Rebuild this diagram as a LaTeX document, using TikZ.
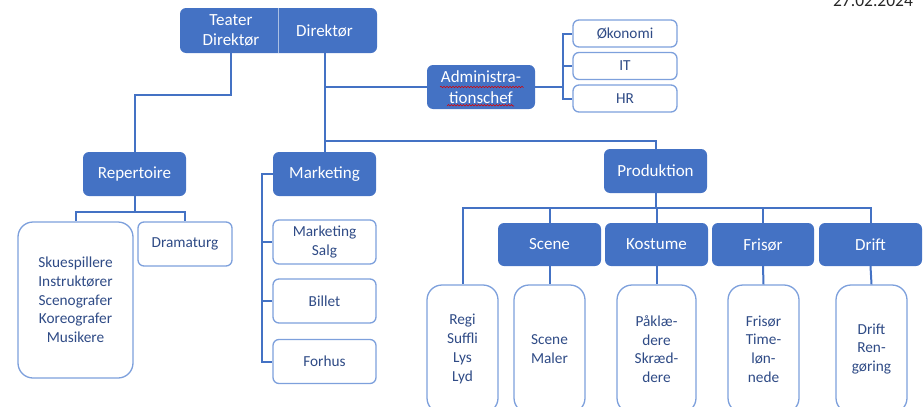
\documentclass[tikz,border=0pt]{standalone}
\usepackage{fontspec}
\setmainfont{Carlito}
\usetikzlibrary{positioning,decorations.pathmorphing}
\definecolor{orgblue}{HTML}{4472C4}
\definecolor{orgline}{HTML}{7DA0DC}
\definecolor{orgtext}{HTML}{2F4B86}

\begin{document}
\begin{tikzpicture}[
  x=1pt, y=-1pt,
  dark/.style={
    rectangle, fill=orgblue, rounded corners=6pt, text=white,
    align=center, inner sep=2pt, font=\fontsize{17}{20.5}\selectfont
  },
  light/.style={
    rectangle, draw=orgline, line width=1.3pt, fill=white, rounded corners=6pt,
    text=orgtext, align=center, inner sep=2pt, font=\fontsize{15.3}{18.7}\selectfont
  },
  tall/.style={light, rounded corners=15pt},
  conn/.style={draw=orgblue, line width=2pt}
]
\path[use as bounding box, clip] (0,0) rectangle (924,407);

\node (dato) [anchor=base, text=black!85, font=\fontsize{17.5}{20}\selectfont] at (873,6) {27.02.2024};

\node (dirbox) [dark, minimum width=197pt, minimum height=45pt] at (278.5,30.5) {};
\node (teater) [dark, fill=none, minimum width=94pt, minimum height=45pt] at (231,30.5) {Teater\\Direktør};
\node (dir) [dark, fill=none, minimum width=93pt, minimum height=45pt] at (324.5,30.5) {Direktør};
\draw[white!55!orgblue, line width=1pt] (dirbox.north) -- (dirbox.south);

\node (adm) [dark, minimum width=108pt, minimum height=44pt] at (481,87) {Administra-\\tionschef};
\draw[red!85!black, line width=0.6pt, decorate, decoration={snake, amplitude=0.7pt, segment length=3pt}]
  (440,87) -- (523,87) (447,106) -- (514,106);

\node (oko) [light, minimum width=104pt, minimum height=27pt] at (625,33.5) {Økonomi};
\node (it) [light, minimum width=104pt, minimum height=27pt] at (625,66) {IT};
\node (hr) [light, minimum width=104pt, minimum height=27pt] at (625,98.5) {HR};

\node (rep) [dark, minimum width=103pt, minimum height=44pt] at (134.5,174) {Repertoire};
\node (mark) [dark, minimum width=103pt, minimum height=44pt] at (324.5,174) {Marketing};
\node (prod) [dark, minimum width=103pt, minimum height=44pt] at (655.5,171) {Produktion};

\node (skue) [tall, minimum width=115pt, minimum height=156pt] at (75.5,300)
  {Skuespillere\\Instruktører\\Scenografer\\Koreografer\\Musikere};
\node (drama) [light, minimum width=94pt, minimum height=44pt] at (185,244) {Dramaturg};

\node (salg) [light, minimum width=103pt, minimum height=44pt] at (324.5,242) {Marketing\\Salg};
\node (billet) [light, minimum width=103pt, minimum height=44pt] at (324.5,301) {Billet};
\node (forhus) [light, minimum width=103pt, minimum height=44pt] at (324.5,361.5) {Forhus};

\node (scene) [dark, minimum width=103pt, minimum height=43pt] at (549.5,244.5) {Scene};
\node (kost) [dark, minimum width=103pt, minimum height=43pt] at (656.5,244.5) {Kostume};
\node (fris) [dark, minimum width=102pt, minimum height=43pt] at (763,244.5) {Frisør};
\node (drift) [dark, minimum width=103pt, minimum height=43pt] at (870.5,244.5) {Drift};

\node (regi) [tall, minimum width=71pt, minimum height=128pt] at (462.5,349) {Regi\\Suffli\\Lys\\Lyd};
\node (maler) [tall, minimum width=71pt, minimum height=128pt] at (549.5,349) {Scene\\Maler};
\node (paak) [tall, minimum width=79pt, minimum height=128pt] at (656.5,349) {Påklæ-\\dere\\Skræd-\\dere};
\node (frism) [tall, minimum width=71pt, minimum height=128pt] at (763.5,349) {Frisør\\Time-\\løn-\\nede};
\node (driftm) [tall, minimum width=71pt, minimum height=128pt] at (871.5,349) {Drift\\Ren-\\gøring};

\draw[conn] (teater.south) -- ++(0,42) -| (rep.north);
\draw[conn] (dir.south) -- (mark.north);
\draw[conn] (dir.south |- adm.west) -- (adm.west);
\path (dir.south) ++(0,88) coordinate (hub);
\draw[conn] (hub) -| (prod.north);

\draw[conn] (adm.east) -- ++(28,0) coordinate (abus);
\draw[conn] (abus) |- (oko.west) (abus) |- (it.west) (abus) |- (hr.west);

\draw[conn] (mark.west) -- ++(-11,0) coordinate (mbus) |- (forhus.west);
\draw[conn] (mbus) |- (salg.west) (mbus) |- (billet.west);

\draw[conn] (rep.south) -- ++(0,16) coordinate (rbus);
\draw[conn] (rbus) -| (skue.north) (rbus) -| (drama.north);

\draw[conn] (prod.south) -- ++(0,15) coordinate (pbus);
\draw[conn] (pbus) -| (regi.north) (pbus) -| (scene.north) (pbus) -| (kost.north)
  (pbus) -| (fris.north) (pbus) -| (drift.north);
\draw[conn] (scene.south) -- (maler.north);
\draw[conn] (kost.south) -- (paak.north);
\draw[conn] (fris.south) -- (frism.north);
\draw[conn] (drift.south) -- (driftm.north);
\end{tikzpicture}
\end{document}
